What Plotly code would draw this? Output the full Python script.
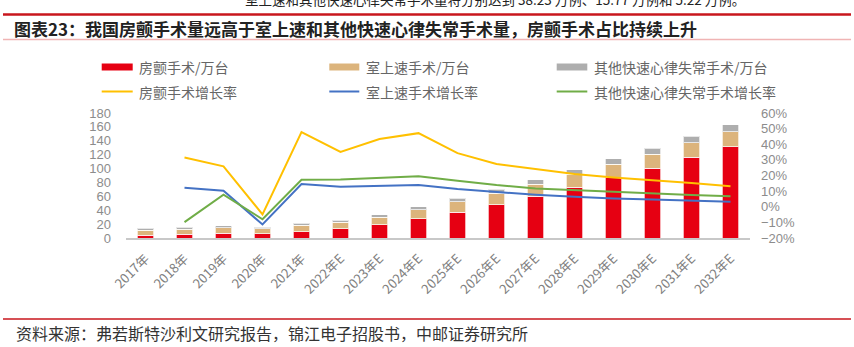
import plotly.graph_objects as go

years = ["2017年", "2018年", "2019年", "2020年", "2021年", "2022年E", "2023年E", "2024年E",
         "2025年E", "2026年E", "2027年E", "2028年E", "2029年E", "2030年E", "2031年E", "2032年E"]
af_vol = [4.3, 5.3, 6.8, 5.8, 9.2, 13.0, 18.8, 28.0, 37.1, 48.2, 59.8, 72.8, 86.8, 100.3, 116.3, 131.2]
svt_vol = [6.8, 7.4, 8.0, 7.4, 9.0, 9.8, 11.3, 12.9, 15.0, 16.6, 17.6, 18.8, 19.5, 20.3, 21.0, 21.8]
oth_vol = [2.8, 2.6, 2.8, 2.5, 2.7, 3.1, 3.6, 4.3, 5.0, 5.5, 6.3, 6.9, 7.8, 8.6, 9.2, 9.8]
af_g = [None, 31.5, 25.9, -4.9, 47.8, 35.1, 43.3, 47.1, 34.3, 27.4, 24.0, 21.0, 18.8, 17.1, 15.2, 13.2]
svt_g = [None, 12.2, 10.2, -11.3, 14.5, 12.8, 13.2, 13.9, 11.3, 9.4, 7.7, 6.4, 5.3, 4.7, 3.8, 3.2]
oth_g = [None, -9.8, 7.7, -8.0, 17.3, 17.5, 18.6, 19.5, 16.7, 13.9, 11.7, 10.7, 9.4, 8.3, 7.5, 6.8]

names_bar = ["房颤手术/万台", "室上速手术/万台", "其他快速心律失常手术/万台"]
names_line = ["房颤手术增长率", "室上速手术增长率", "其他快速心律失常手术增长率"]
c_bar = ["#E60012", "#DCB47C", "#AEAEAE"]
c_line = ["#FFC000", "#4472C4", "#70AD47"]

W, H = 854, 347
L, R, T, B = 126, 750, 113, 238
CJK = "Noto Sans CJK SC"

def px(x):
    return (x - L) / (R - L)

def py(y):
    return (B - y) / (B - T)

fig = go.Figure()
for vals, nm, col in zip([af_vol, svt_vol, oth_vol], names_bar, c_bar):
    fig.add_trace(go.Bar(x=years, y=vals, name=nm, marker=dict(color=col, line=dict(color="rgba(255,255,255,0.7)", width=1)),
                         width=0.42, yaxis="y", showlegend=False))
for vals, nm, col in zip([af_g, svt_g, oth_g], names_line, c_line):
    fig.add_trace(go.Scatter(x=years, y=vals, name=nm, mode="lines", line=dict(color=col, width=2),
                             yaxis="y2", showlegend=False, connectgaps=False))

shapes = []
annos = []
# legend
cols_x = [(101.7, 132.7, 137), (329.3, 359.3, 364), (556.7, 587.3, 592)]
for i, (x0, x1, tx) in enumerate(cols_x):
    shapes.append(dict(type="rect", xref="paper", yref="paper", x0=px(x0), x1=px(x1), y0=py(70.5), y1=py(63.5),
                       fillcolor=c_bar[i], line=dict(width=0)))
    annos.append(dict(text=names_bar[i], xref="paper", yref="paper", x=px(tx), y=py(67), xanchor="left", yanchor="middle",
                      showarrow=False, font=dict(family=CJK, size=14, color="#666666")))
    shapes.append(dict(type="line", xref="paper", yref="paper", x0=px(x0), x1=px(x1), y0=py(91.5), y1=py(91.5),
                       line=dict(color=c_line[i], width=2)))
    annos.append(dict(text=names_line[i], xref="paper", yref="paper", x=px(tx), y=py(91.5), xanchor="left", yanchor="middle",
                      showarrow=False, font=dict(family=CJK, size=14, color="#666666")))

# header / footer
shapes.append(dict(type="line", xref="paper", yref="paper", x0=px(3), x1=px(851), y0=py(14.5), y1=py(14.5),
                   line=dict(color="#C8161D", width=2.5)))
shapes.append(dict(type="line", xref="paper", yref="paper", x0=px(3), x1=px(851), y0=py(39.5), y1=py(39.5),
                   line=dict(color="#F0B4B4", width=1.5)))
shapes.append(dict(type="line", xref="paper", yref="paper", x0=px(3), x1=px(851), y0=py(319), y1=py(319),
                   line=dict(color="#C8161D", width=1.5)))
annos.append(dict(text="室上速和其他快速心律失常手术量将分别达到 38.23 万例、15.77 万例和 5.22 万例。",
                  xref="paper", yref="paper", x=px(243), y=py(-1), xanchor="left", yanchor="middle", showarrow=False,
                  font=dict(family=CJK, size=13.5, color="#222222")))
annos.append(dict(text="<b>图表23：我国房颤手术量远高于室上速和其他快速心律失常手术量，房颤手术占比持续上升</b>",
                  xref="paper", yref="paper", x=px(12), y=py(28.5), xanchor="left", yanchor="middle", showarrow=False,
                  font=dict(family=CJK, size=17, color="#222222")))
annos.append(dict(text="资料来源：弗若斯特沙利文研究报告，锦江电子招股书，中邮证券研究所",
                  xref="paper", yref="paper", x=px(14), y=py(333), xanchor="left", yanchor="middle", showarrow=False,
                  font=dict(family=CJK, size=16, color="#333333")))

fig.update_layout(
    width=W, height=H,
    margin=dict(l=L, r=W - R, t=T, b=H - B, pad=0),
    paper_bgcolor="white", plot_bgcolor="white",
    barmode="stack", bargap=0.58,
    shapes=shapes, annotations=annos,
    xaxis=dict(type="category", tickangle=-45, showline=True, linecolor="#C8C8C8", linewidth=2,
               showgrid=False, ticks="", tickfont=dict(family=CJK, size=13, color="#808080"), ticklabelstandoff=6),
    yaxis=dict(range=[0, 180], dtick=20, showgrid=False, zeroline=False, showline=False, ticks="",
               tickfont=dict(family="Liberation Sans", size=13, color="#8C8C8C"), ticklabelstandoff=14),
    yaxis2=dict(range=[-20, 60], dtick=10, overlaying="y", side="right", showgrid=False, zeroline=False,
                showline=False, ticks="", ticksuffix="%",
                tickfont=dict(family="Liberation Sans", size=13, color="#8C8C8C"), ticklabelstandoff=10),
    font=dict(family=CJK),
)

fig.write_html("out.html")
